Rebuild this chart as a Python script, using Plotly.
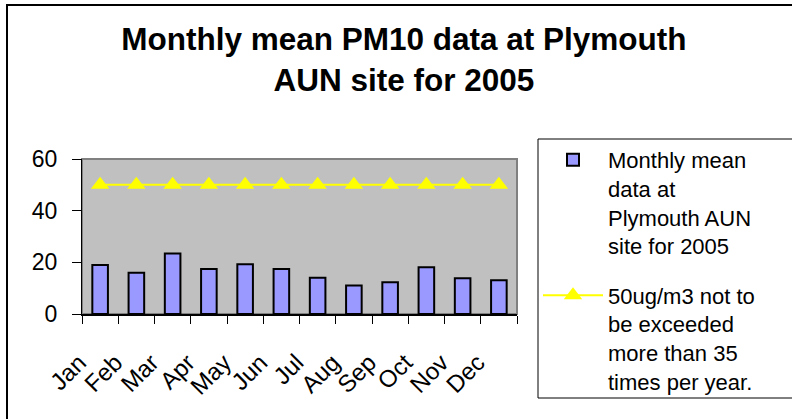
import plotly.graph_objects as go

months = ["Jan", "Feb", "Mar", "Apr", "May", "Jun", "Jul", "Aug", "Sep", "Oct", "Nov", "Dec"]
monthly_mean = [19.0, 16.0, 23.4, 17.4, 19.3, 17.4, 14.0, 11.0, 12.3, 18.1, 13.8, 13.1]
limit_value = [50] * 12
y_ticks = [0, 20, 40, 60]

bar_name = "Monthly mean<br>data at<br>Plymouth AUN<br>site for 2005"
line_name = "50ug/m3 not to<br>be exceeded<br>more than 35<br>times per year."
title_text = "<b>Monthly mean PM10 data at Plymouth<br>AUN site for 2005</b>"

FONT = "Liberation Sans, Arial, sans-serif"

W, H = 792, 419
L, R, T, B = 82, 517, 159, 314  # plot area pixels


def px(x):
    return (x - L) / (R - L)


def py(y):
    return (B - y) / (B - T)


fig = go.Figure()
fig.add_trace(go.Bar(
    x=months, y=monthly_mean, name=bar_name,
    marker=dict(color="#9999FF", line=dict(color="#000000", width=2)),
    legendgroup="a",
))
fig.add_trace(go.Scatter(
    x=months, y=limit_value, name=line_name, mode="lines+markers",
    line=dict(color="#FFFF00", width=2),
    marker=dict(symbol="triangle-up", size=16, color="#FFFF00"),
    legendgroup="b",
))

shapes = [
    # plot area border (gray)
    dict(type="rect", xref="paper", yref="paper", x0=0, x1=1, y0=0, y1=1,
         line=dict(color="#808080", width=2), layer="below"),
    # outer chart border
    dict(type="rect", xref="paper", yref="paper", x0=px(7), x1=px(810), y0=py(5), y1=py(440),
         line=dict(color="#000000", width=2)),
    # legend box
    dict(type="rect", xref="paper", yref="paper", x0=px(538), x1=px(810), y0=py(139), y1=py(398),
         line=dict(color="#000000", width=1)),
]

fig.update_layout(
    width=W, height=H,
    margin=dict(l=L, r=W - R, t=T, b=H - B, autoexpand=False),
    paper_bgcolor="#FFFFFF",
    plot_bgcolor="#C0C0C0",
    font=dict(family=FONT, color="#000000"),
    title=dict(text=title_text, x=0.51, xanchor="center", y=0.88, yanchor="top",
               yref="container", font=dict(size=31.5, family=FONT, color="#000000")),
    bargap=0.57,
    showlegend=True,
    legend=dict(x=px(538), xanchor="left", y=py(139), yanchor="top",
                bgcolor="rgba(0,0,0,0)", borderwidth=0, valign="top",
                font=dict(size=22, family=FONT, color="#000000"),
                itemwidth=60, tracegroupgap=18, traceorder="grouped",
                maxheight=400),
    shapes=shapes,
    xaxis=dict(
        type="category", categoryorder="array", categoryarray=months,
        range=[-0.5, 11.5], autorange=False,
        showline=True, linecolor="#000000", linewidth=2,
        ticks="outside", ticklen=8, tickcolor="#000000", tickwidth=1,
        tickson="boundaries", tickangle=-45, ticklabelstandoff=23, ticklabelshift=-21,
        tickfont=dict(size=24, family=FONT, color="#000000"),
        showgrid=False, zeroline=False,
    ),
    yaxis=dict(
        range=[0, 60], tickvals=y_ticks,
        showline=True, linecolor="#000000", linewidth=1,
        ticks="outside", ticklen=9, tickcolor="#000000", tickwidth=1,
        ticklabelstandoff=10,
        tickfont=dict(size=23, family=FONT, color="#000000"),
        showgrid=False, zeroline=False,
    ),
)

fig.write_html("out.html", config={"displayModeBar": False},
               post_script="document.body.style.margin='0';")
